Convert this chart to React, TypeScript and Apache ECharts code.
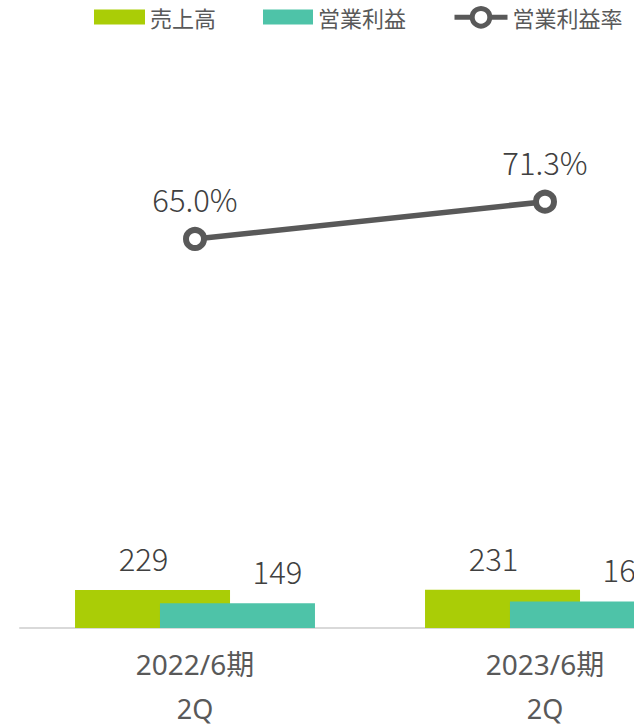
import React, { useEffect, useRef } from "react";
import * as echarts from "echarts";

const periods = ["2022/6期", "2023/6期"];
const quarters = ["2Q", "2Q"];
const sales = [229, 231];
const opProfit = [149, 160];
const opMargin = [65.0, 71.3];
const seriesNames = ["売上高", "営業利益", "営業利益率"];

const GREEN = "#AACD06";
const TEAL = "#4EC3A8";
const LINE = "#595959";
const NUM_FONT = "'Noto Sans CJK JP', 'Noto Sans', sans-serif";
const AXIS_FONT = "'Noto Sans', 'Noto Sans CJK JP', sans-serif";
const CJK_FONT = "'Noto Sans CJK JP', 'Noto Sans', sans-serif";

export default function App() {
  const ref = useRef<HTMLDivElement>(null);
  useEffect(() => {
    if (!ref.current) return;
    const chart = echarts.init(ref.current, undefined, { renderer: "svg" });
    const W = 760;
    const legendText = { fontSize: 22, color: "#595959", fontFamily: CJK_FONT };
    const numLabel = {
      show: true,
      position: "top",
      fontSize: 31,
      fontWeight: 300,
      color: "#404040",
      fontFamily: NUM_FONT,
    };
    chart.setOption({
      animation: false,
      backgroundColor: "#ffffff",
      legend: [
        {
          left: 94,
          top: 6,
          padding: 0,
          itemWidth: 51,
          itemHeight: 15,
          textStyle: legendText,
          data: [{ name: seriesNames[0], icon: "rect" }],
        },
        {
          left: 263,
          top: 6,
          padding: 0,
          itemWidth: 50,
          itemHeight: 15,
          textStyle: legendText,
          data: [{ name: seriesNames[1], icon: "rect" }],
        },
        {
          left: 452,
          top: 6,
          padding: 0,
          itemWidth: 53,
          itemHeight: 22,
          textStyle: legendText,
          lineStyle: { width: 5 },
          itemStyle: { borderWidth: 5 },
          data: [{ name: seriesNames[2] }],
        },
      ],
      grid: { left: 20, right: W - 720, top: 28, bottom: 99, outerBoundsMode: "none", containLabel: false },
      xAxis: [
        {
          type: "category",
          data: periods,
          axisLine: { lineStyle: { color: "#D9D9D9", width: 2 } },
          axisTick: { show: false },
          axisLabel: {
            color: "#595959",
            fontSize: 28,
            lineHeight: 30,
            margin: 21,
            fontFamily: AXIS_FONT,
          },
        },
        {
          type: "category",
          position: "bottom",
          data: quarters,
          axisLine: { show: false },
          axisTick: { show: false },
          axisLabel: {
            color: "#595959",
            fontSize: 27,
            lineHeight: 28,
            margin: 66,
            fontFamily: AXIS_FONT,
          },
        },
      ],
      yAxis: [
        { type: "value", min: 0, max: 3618, show: false, splitLine: { show: false } },
        { type: "value", min: -0.71, max: 100.64, show: false, splitLine: { show: false } },
      ],
      series: [
        {
          name: seriesNames[0],
          type: "bar",
          xAxisIndex: 0,
          yAxisIndex: 0,
          data: sales,
          barWidth: 155,
          barGap: "-45.2%",
          itemStyle: { color: GREEN },
          label: { ...numLabel, distance: 17, offset: [-9, 0] },
          z: 2,
        },
        {
          name: seriesNames[1],
          type: "bar",
          xAxisIndex: 0,
          yAxisIndex: 0,
          data: opProfit,
          barWidth: 155,
          itemStyle: { color: TEAL },
          label: { ...numLabel, distance: 17, offset: [40, 0] },
          z: 3,
        },
        {
          name: seriesNames[2],
          type: "line",
          xAxisIndex: 0,
          yAxisIndex: 1,
          data: opMargin,
          symbol: "circle",
          symbolSize: 18,
          lineStyle: { color: LINE, width: 5.5 },
          itemStyle: { color: "#ffffff", borderColor: LINE, borderWidth: 6 },
          label: {
            ...numLabel,
            distance: 13,
            formatter: (p: any) => Number(p.value).toFixed(1) + "%",
          },
          z: 5,
        },
      ],
    });
    return () => chart.dispose();
  }, []);
  return (
    <div style={{ position: "absolute", left: 0, top: 0, width: 634, height: 727, overflow: "hidden", background: "#fff" }}>
      <div ref={ref} style={{ width: 760, height: 727 }} />
    </div>
  );
}
